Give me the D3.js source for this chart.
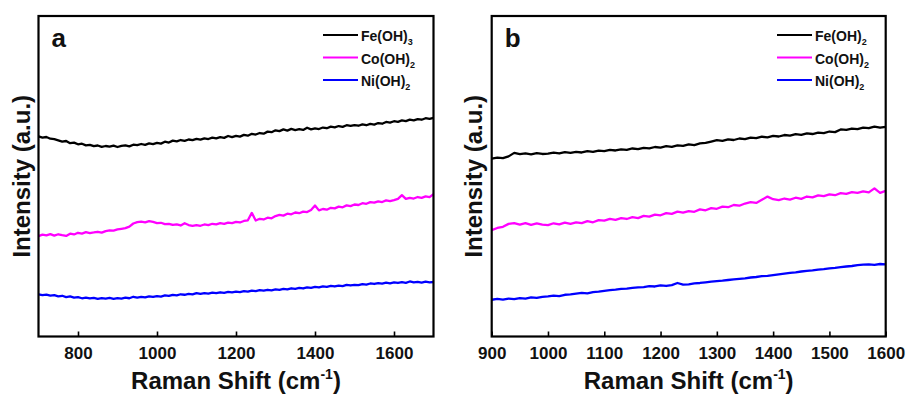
<!DOCTYPE html>
<html>
<head>
<meta charset="utf-8">
<script src="https://cdn.jsdelivr.net/npm/d3@7"></script>
<style>
  html, body { margin: 0; padding: 0; background: #fff; }
  svg { display: block; font-family: "Liberation Sans", Arial, sans-serif; }
</style>
</head>
<body>
<svg id="chart" width="909" height="394"></svg>
<script>
// ---------------- DATA ----------------
// Panel a: Raman shift grid 700..1700 step 10 cm-1
const shiftStartA = 700, shiftStepA = 10;
const fe3A = [200.5,199.2,199.8,198.1,197.6,196.4,195.1,195.8,193.6,194.2,
  192.5,193.1,191.4,192.0,190.6,191.3,189.9,190.8,190.1,191.2,
  189.8,190.9,191.5,190.4,192.1,191.6,192.8,191.9,193.4,192.7,
  194.0,193.2,195.1,194.3,196.2,195.4,196.8,195.9,197.3,196.6,
  197.9,197.1,198.5,197.8,199.2,198.4,199.6,198.9,200.8,199.7,
  201.0,200.2,201.9,201.1,203.0,202.3,203.8,203.1,205.2,204.6,
  206.5,205.7,207.4,206.2,207.9,206.8,207.6,206.9,209.1,207.5,
  208.4,207.8,209.3,208.6,210.2,209.5,210.8,210.0,211.6,210.9,
  211.8,211.1,212.4,211.6,212.9,212.2,213.8,213.1,214.9,214.3,
  215.6,215.0,216.4,215.7,217.2,216.5,217.8,217.1,218.6,217.9,219.0];
const coA = [100.6,102.1,101.3,102.6,101.0,102.4,101.5,100.7,103.0,102.2,
  103.9,103.1,104.5,103.6,104.2,104.9,104.0,105.6,106.3,106.0,
  107.2,107.9,108.6,110.1,113.2,114.5,115.1,114.4,115.6,114.8,
  113.6,113.9,112.5,112.9,111.7,112.3,111.2,113.4,111.6,110.8,
  111.5,110.9,112.2,111.6,112.9,112.3,113.5,112.8,114.1,113.6,
  114.8,114.2,115.7,116.4,123.8,116.2,117.9,117.2,119.0,118.4,
  120.6,121.8,121.1,123.0,122.4,124.2,123.5,125.1,124.6,126.8,
  131.2,126.3,127.7,127.0,128.9,128.3,130.1,129.4,131.3,130.6,
  132.2,131.7,133.5,132.9,134.6,134.0,135.4,134.7,136.3,135.6,
  136.6,137.9,141.6,137.8,138.9,138.2,139.7,138.9,140.3,139.6,142.5];
const niA = [42.3,41.5,42.0,40.9,41.4,40.2,40.8,39.5,40.1,38.9,
  39.4,38.3,39.0,38.1,38.7,37.8,38.5,37.9,38.6,37.7,
  38.4,38.0,38.9,38.3,39.8,39.0,39.7,39.1,40.2,39.6,
  40.5,40.0,41.1,40.6,41.7,41.2,42.3,41.8,42.6,42.1,
  43.4,42.7,43.5,43.0,43.9,43.4,44.3,43.8,44.6,44.1,
  44.9,44.5,45.4,44.9,46.0,45.5,46.4,45.9,46.8,46.3,
  47.2,46.8,47.7,47.2,48.3,47.8,48.6,48.1,49.2,48.7,
  49.6,49.1,50.2,49.7,50.6,50.1,51.0,50.5,51.6,51.1,
  51.8,51.4,52.5,52.0,53.1,52.6,53.4,53.0,53.9,53.3,
  54.1,53.6,54.4,53.8,55.1,54.2,54.7,54.0,54.9,54.3,54.6];

// Panel b: Raman shift grid 900..1600 step 10 cm-1
const shiftStartB = 900, shiftStepB = 10;
const fe2B = [178.2,179.1,178.6,180.4,183.9,182.6,183.4,182.5,183.7,182.8,
  183.2,184.1,183.3,184.6,183.9,185.0,184.3,185.6,184.9,186.2,
  185.6,186.9,186.3,187.5,187.0,188.3,187.6,189.0,188.4,189.8,
  189.2,190.6,190.0,191.5,190.9,192.4,191.7,193.4,193.9,195.2,
  196.6,195.9,197.5,196.8,198.3,197.7,199.2,198.6,200.1,199.5,
  200.9,200.3,201.8,201.1,202.6,202.0,203.5,202.8,204.2,203.6,
  205.3,204.7,207.4,207.0,208.3,207.7,209.2,208.6,210.3,209.1,210.0];
const coB = [106.5,108.7,109.9,112.8,113.5,112.1,113.6,111.9,113.2,112.0,
  111.6,113.4,112.3,114.0,112.8,114.3,113.5,115.6,114.4,116.5,
  116.1,117.8,116.9,118.6,117.7,119.5,118.6,120.8,120.0,122.1,
  121.4,123.5,122.8,125.0,124.1,125.6,124.9,127.3,126.4,128.6,
  127.9,130.1,129.5,131.7,131.0,133.2,134.5,133.8,136.9,140.1,
  137.5,136.6,138.2,137.1,139.0,137.9,140.2,139.3,141.4,140.6,
  142.3,141.5,143.6,142.8,144.5,143.9,145.4,144.3,148.4,143.9,145.8];
const niB = [36.8,37.6,36.9,38.0,37.4,38.5,38.0,39.2,38.6,39.7,
  40.1,40.9,40.5,41.8,42.2,42.9,43.6,43.1,44.5,44.9,
  45.8,46.4,46.9,47.6,47.9,48.6,49.1,49.5,50.4,50.1,
  51.2,50.6,51.5,53.6,52.0,52.3,53.2,53.6,54.3,54.9,
  55.5,55.9,56.6,57.2,57.8,58.3,59.1,59.6,60.4,60.8,
  61.5,62.2,62.9,63.7,64.3,65.1,65.8,66.2,67.0,67.4,
  68.2,68.7,69.4,70.1,70.6,71.5,71.9,72.3,71.8,72.6,72.2];

const ticksA = [800, 1000, 1200, 1400, 1600];
const ticksB = [900, 1000, 1100, 1200, 1300, 1400, 1500, 1600];
const domainA = [700, 1700];
const domainB = [900, 1600];
const intensityDomain = [0, 321];

const seriesA = [
  { name: "Fe(OH)", sub: "3", color: "#000000", values: fe3A },
  { name: "Co(OH)", sub: "2", color: "#ff00ff", values: coA },
  { name: "Ni(OH)", sub: "2", color: "#0000ff", values: niA }
];
const seriesB = [
  { name: "Fe(OH)", sub: "2", color: "#000000", values: fe2B },
  { name: "Co(OH)", sub: "2", color: "#ff00ff", values: coB },
  { name: "Ni(OH)", sub: "2", color: "#0000ff", values: niB }
];

// ---------------- DRAW ----------------
const svg = d3.select("#chart");

function panel(opt) {
  const { left, right, top, bottom, domain, ticks, start, step, series, letter,
          legendX, yTitleX } = opt;
  const x = d3.scaleLinear().domain(domain).range([left, right]);
  const y = d3.scaleLinear().domain(intensityDomain).range([bottom, top]);
  const g = svg.append("g");

  const defsId = "clip-" + letter;
  svg.append("clipPath").attr("id", defsId)
    .append("rect").attr("x", left).attr("y", top)
    .attr("width", right - left).attr("height", bottom - top);

  const line = d3.line()
    .x((d, i) => x(start + i * step))
    .y(d => y(d));

  series.forEach(s => {
    g.append("path")
      .attr("d", line(s.values))
      .attr("fill", "none")
      .attr("stroke", s.color)
      .attr("stroke-width", 2.3)
      .attr("stroke-linejoin", "round")
      .attr("clip-path", `url(#${defsId})`);
  });

  // x axis (inward ticks)
  const axis = d3.axisBottom(x).tickValues(ticks).tickFormat(d3.format("d"))
    .tickSizeInner(-5).tickSizeOuter(0).tickPadding(10);
  const ax = g.append("g").attr("transform", `translate(0,${bottom})`).call(axis);
  ax.select(".domain").remove();
  ax.selectAll(".tick line").attr("stroke", "#000").attr("stroke-width", 1.6);
  ax.selectAll(".tick text")
    .attr("fill", "#111")
    .style("font-size", "17px").style("font-weight", "bold")
    .style("font-family", "'Liberation Sans', Arial, sans-serif");

  // frame
  g.append("rect")
    .attr("x", left).attr("y", top)
    .attr("width", right - left).attr("height", bottom - top)
    .attr("fill", "none").attr("stroke", "#000").attr("stroke-width", 2.2);

  // panel letter
  g.append("text").attr("x", left + 13).attr("y", top + 31)
    .text(letter)
    .style("font-size", "26px").style("font-weight", "bold").attr("fill", "#111");

  // legend
  const lg = g.append("g");
  const legY = [35, 57.5, 80];
  series.forEach((s, i) => {
    lg.append("line")
      .attr("x1", legendX).attr("x2", legendX + 35)
      .attr("y1", legY[i]).attr("y2", legY[i])
      .attr("stroke", s.color).attr("stroke-width", 1.8);
    const t = lg.append("text")
      .attr("x", legendX + 38).attr("y", legY[i] + 6)
      .style("font-size", "14px").style("font-weight", "bold").attr("fill", "#111");
    t.append("tspan").text(s.name);
    t.append("tspan").text(s.sub).attr("dy", 4).style("font-size", "9px");
  });

  // x title
  const xt = g.append("text")
    .attr("x", (left + right) / 2).attr("y", 389)
    .attr("text-anchor", "middle")
    .style("font-size", "24px").style("font-weight", "bold").attr("fill", "#111");
  xt.append("tspan").text("Raman Shift (cm");
  xt.append("tspan").text("-1").attr("dy", -10).style("font-size", "14px");
  xt.append("tspan").text(")").attr("dy", 10);

  // y title
  g.append("text")
    .attr("transform", `translate(${yTitleX},${(top + bottom) / 2}) rotate(-90)`)
    .attr("text-anchor", "middle")
    .style("font-size", "24px").style("font-weight", "bold").attr("fill", "#111")
    .text("Intensity (a.u.)");
}

panel({ left: 38.5, right: 433.5, top: 16, bottom: 336.5, domain: domainA, ticks: ticksA,
        start: shiftStartA, step: shiftStepA, series: seriesA, letter: "a",
        legendX: 323, yTitleX: 30 });
panel({ left: 491.7, right: 885.7, top: 16, bottom: 336.5, domain: domainB, ticks: ticksB,
        start: shiftStartB, step: shiftStepB, series: seriesB, letter: "b",
        legendX: 777, yTitleX: 482 });
</script>
</body>
</html>
